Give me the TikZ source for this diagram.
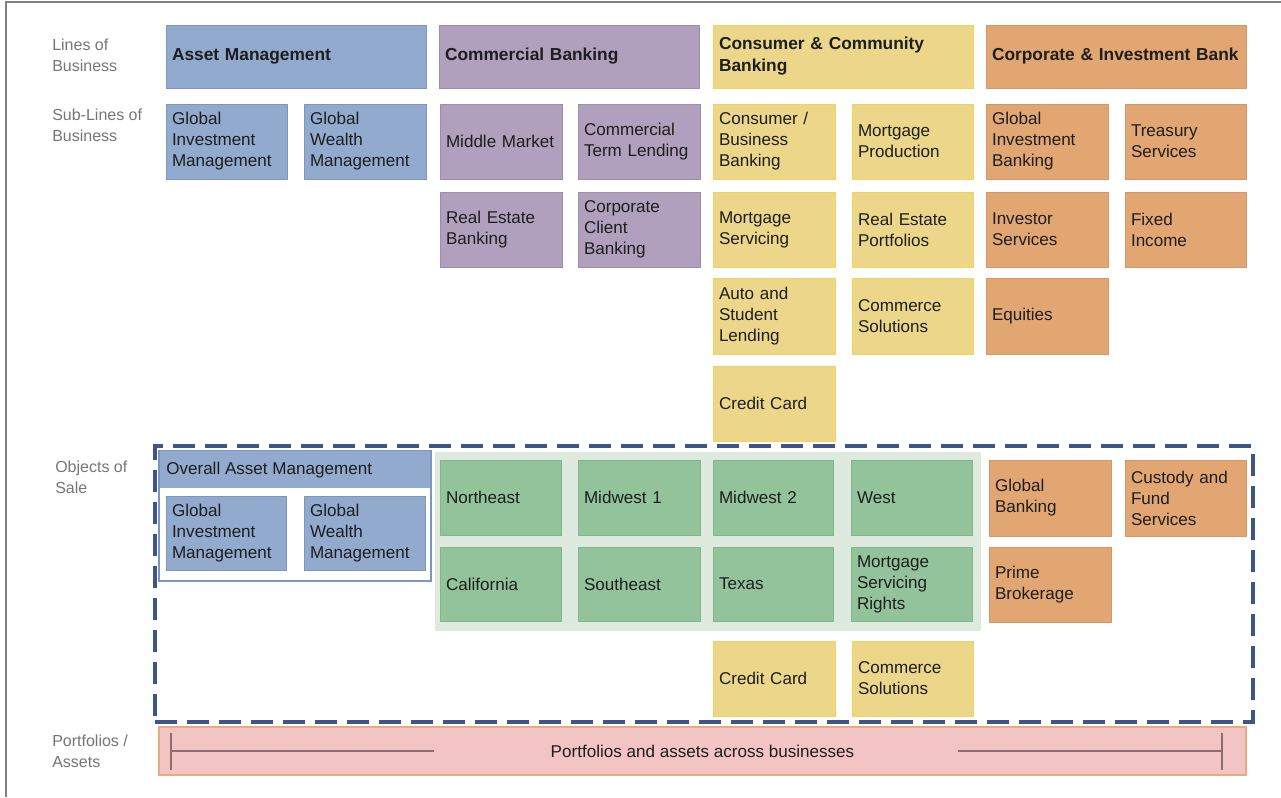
\documentclass[tikz,border=0pt]{standalone}
\usepackage{fontspec}
\setmainfont{Liberation Sans}
\definecolor{cblue}{RGB}{146,170,205}
\definecolor{cblued}{RGB}{125,150,190}
\definecolor{cpur}{RGB}{176,160,190}
\definecolor{cpurd}{RGB}{158,140,172}
\definecolor{cyel}{RGB}{235,214,138}
\definecolor{cyeld}{RGB}{242,212,90}
\definecolor{cora}{RGB}{226,166,115}
\definecolor{corad}{RGB}{214,152,102}
\definecolor{cgrn}{RGB}{147,195,155}
\definecolor{cgrnd}{RGB}{132,182,142}
\definecolor{cgbg}{RGB}{221,234,221}
\definecolor{cpink}{RGB}{242,196,196}
\definecolor{cpinkd}{RGB}{232,170,130}
\definecolor{cdash}{RGB}{62,86,135}
\definecolor{txt}{RGB}{30,30,30}
\definecolor{lbl}{RGB}{118,118,118}
\definecolor{frame}{RGB}{128,128,128}
\definecolor{barline}{RGB}{140,110,112}
\newcommand\bx[7]{%
  \pgfmathsetmacro\bxw{(#4-#2)*0.75}%
  \pgfmathsetmacro\bxh{(#5-#3)*0.75}%
  \pgfmathsetmacro\bxt{(#4-#2)*0.75-9}%
  \node[#6, minimum width=\bxw pt, minimum height=\bxh pt, text width=\bxt pt,
        inner xsep=4.5pt, inner ysep=0pt, align=left]
        (#1) at ({(#2+#4)/2},{(#3+#5)/2}) {#7};}
\tikzset{
  base/.style={draw, line width=0.6pt, text=txt, font=\fontsize{12.8}{15.8}\selectfont},
  blu/.style={base, fill=cblue, draw=cblued},
  pur/.style={base, fill=cpur, draw=cpurd},
  yel/.style={base, fill=cyel, draw=cyeld},
  ora/.style={base, fill=cora, draw=corad},
  grn/.style={base, fill=cgrn, draw=cgrnd},
  hdr/.style={font=\bfseries\fontsize{13}{16.5}\selectfont},
  sidelbl/.style={text=lbl, font=\fontsize{12}{16}\selectfont, align=left, anchor=west, inner sep=0pt},
  barln/.style={draw=barline, line width=1.3pt},
}
\begin{document}
\begin{tikzpicture}[x=0.75pt, y=-0.75pt]
\useasboundingbox (0,0) rectangle (1281,797);
\fill[white] (0,0) rectangle (1281,797);
\draw[frame, line width=1.5pt] (6,797) -- (6,2) -- (1281,2);

% side labels
\node[sidelbl] (l1) at (52,55) {Lines of\\Business};
\node[sidelbl] (l2) at (52,125) {Sub-Lines of\\Business};
\node[sidelbl] (l3) at (55,477) {Objects of\\Sale};
\node[sidelbl] (l4) at (52,751) {Portfolios /\\Assets};

% lines of business
\bx{am}{166}{25}{426}{88}{blu,hdr}{Asset Management}
\bx{cb}{439}{25}{699}{88}{pur,hdr}{Commercial Banking}
\bx{ccb}{713}{25}{973}{88}{yel,hdr}{Consumer \& Community\\Banking}
\bx{cib}{986}{25}{1246}{88}{ora,hdr}{Corporate \& Investment Bank}

% sub-lines row 1
\bx{gim}{166}{104}{287}{179}{blu}{Global\\Investment\\Management}
\bx{gwm}{304}{104}{426}{179}{blu}{Global\\Wealth\\Management}
\bx{mm}{440}{104}{562}{179}{pur}{\mbox{Middle Market}}
\bx{ctl}{578}{104}{700}{179}{pur}{Commercial\\Term Lending}
\bx{cbb}{713}{104}{835}{179}{yel}{Consumer /\\Business\\Banking}
\bx{mp}{852}{104}{973}{179}{yel}{Mortgage\\Production}
\bx{gib}{986}{104}{1108}{179}{ora}{Global\\Investment\\Banking}
\bx{ts}{1125}{104}{1246}{179}{ora}{Treasury\\Services}

% row 2
\bx{reb}{440}{192}{562}{267}{pur}{Real Estate\\Banking}
\bx{ccbk}{578}{192}{700}{267}{pur}{Corporate\\Client\\Banking}
\bx{ms}{713}{192}{835}{267}{yel}{Mortgage\\Servicing}
\bx{rep}{852}{192}{973}{267}{yel}{Real Estate\\Portfolios}
\bx{is}{986}{192}{1108}{267}{ora}{Investor\\Services}
\bx{fi}{1125}{192}{1246}{267}{ora}{Fixed\\Income}

% row 3
\bx{asl}{713}{278}{835}{354}{yel}{Auto and\\Student\\Lending}
\bx{cs}{852}{278}{973}{354}{yel}{Commerce\\Solutions}
\bx{eq}{986}{278}{1108}{354}{ora}{Equities}

% row 4
\bx{cc}{713}{366}{835}{441}{yel}{Credit Card}

% objects of sale: overall asset management
\node[draw=cblued, line width=0.9pt, minimum width=204pt, minimum height=97.5pt, inner sep=0pt]
  (oam) at (295,516) {};
\node[fill=cblue, minimum width=203pt, minimum height=27.5pt, inner sep=0pt]
  (oamh) at (295,469.5) {};
\node[anchor=west, text=txt, font=\fontsize{12.8}{15.8}\selectfont, inner sep=0pt]
  (oamt) at (166,470) {Overall Asset Management};
\bx{ogim}{166}{496}{286}{570}{blu}{Global\\Investment\\Management}
\bx{ogwm}{304}{496}{425}{570}{blu}{Global\\Wealth\\Management}

% green region
\node[fill=cgbg, minimum width=409.5pt, minimum height=134.25pt, inner sep=0pt]
  (gbg) at (708,541.5) {};
\bx{ne}{440}{460}{561}{535}{grn}{Northeast}
\bx{mw1}{578}{460}{700}{535}{grn}{Midwest 1}
\bx{mw2}{713}{460}{833}{535}{grn}{Midwest 2}
\bx{we}{851}{460}{972}{535}{grn}{West}
\bx{ca}{440}{547}{561}{621}{grn}{California}
\bx{se}{578}{547}{700}{621}{grn}{Southeast}
\bx{tx}{713}{547}{833}{621}{grn}{Texas}
\bx{msr}{851}{547}{972}{621}{grn}{Mortgage\\Servicing\\Rights}

% orange objects
\bx{gb}{989}{460}{1111}{536}{ora}{Global\\Banking}
\bx{cfs}{1125}{460}{1246}{536}{ora}{Custody and\\Fund\\Services}
\bx{pb}{989}{547}{1111}{622}{ora}{Prime\\Brokerage}

% yellow objects
\bx{occ}{713}{641}{835}{716}{yel}{Credit Card}
\bx{ocs}{852}{641}{973}{716}{yel}{Commerce\\Solutions}

% dashed frame
\node[draw=cdash, line width=3pt, dash pattern=on 16.5pt off 7.5pt,
      minimum width=823.5pt, minimum height=207pt, inner sep=0pt]
  (obj) at (704,584) {};

% portfolios bar
\node[fill=cpink, draw=cpinkd, line width=0.8pt, minimum width=815.25pt, minimum height=36pt,
      inner sep=0pt, text=txt, font=\fontsize{12.8}{15.8}\selectfont]
  (bar) at (702.5,751) {Portfolios and assets across businesses};
\coordinate (lt) at (171,733);
\coordinate (lb) at (171,770);
\coordinate (lm) at (171,751);
\coordinate (le) at (434,751);
\coordinate (rs) at (958,751);
\coordinate (rm) at (1222,751);
\coordinate (rt) at (1222,733);
\coordinate (rb) at (1222,770);
\draw[barln] (lt) -- (lb);
\draw[barln] (lm) -- (le);
\draw[barln] (rs) -- (rm);
\draw[barln] (rt) -- (rb);
\end{tikzpicture}
\end{document}
